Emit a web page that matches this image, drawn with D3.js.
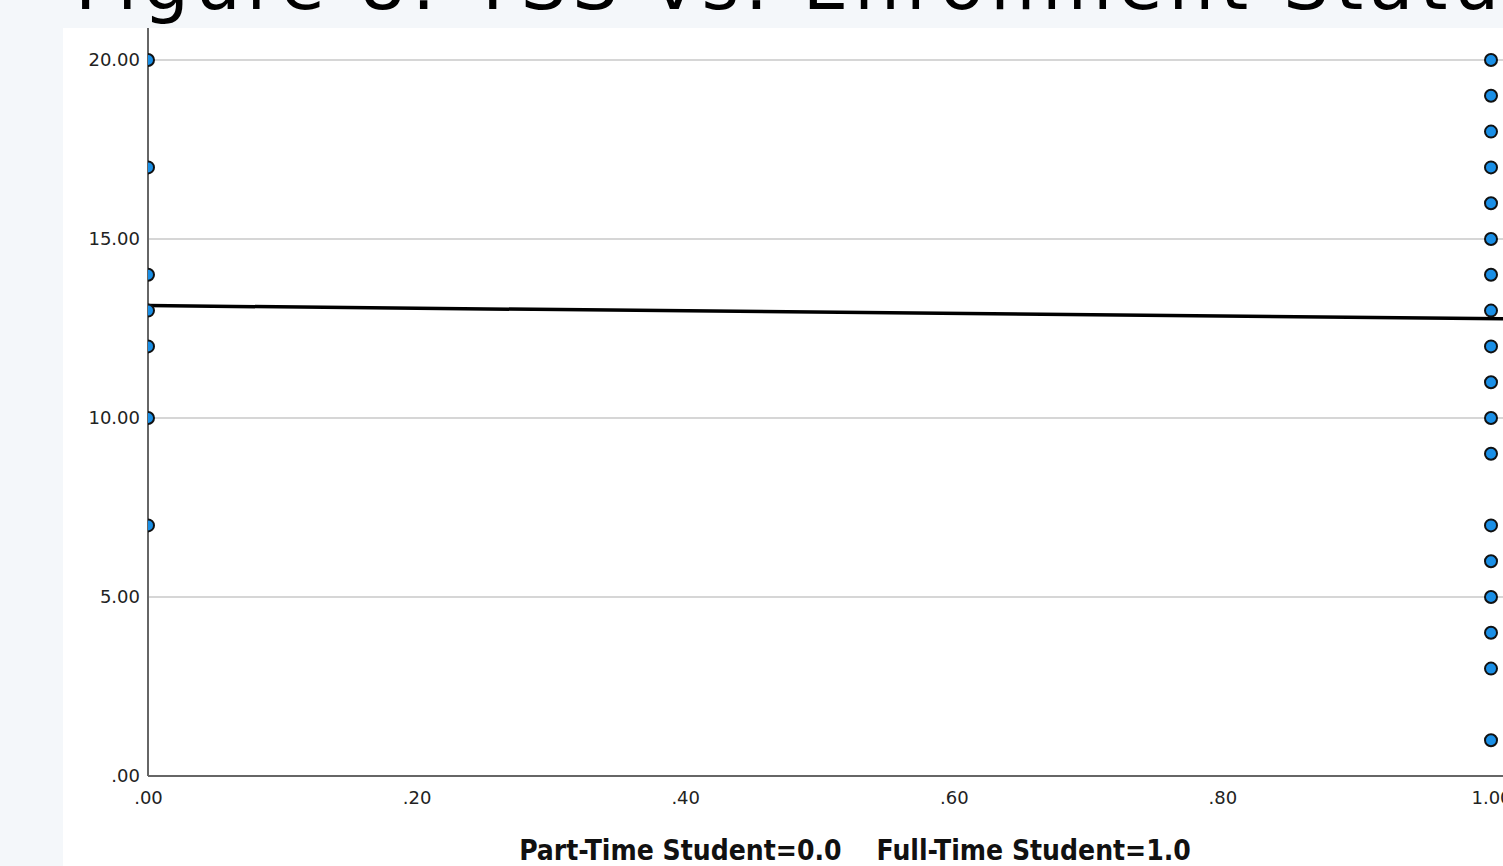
<!DOCTYPE html>
<html>
<head>
<meta charset="utf-8">
<script src="https://cdn.jsdelivr.net/npm/d3@7"></script>
<style>
  html, body { margin: 0; padding: 0; background: #f4f7fa; overflow: hidden; }
  svg { display: block; }
</style>
</head>
<body>
<svg id="chart" width="1503" height="866"></svg>
<script>
// values
var titleText = "Figure 8: YSS vs. Enrollment Status";
var partTimeYss = [20, 17, 14, 13, 12, 10, 7];
var fullTimeYss = [20, 19, 18, 17, 16, 15, 14, 13, 12, 11, 10, 9, 7, 6, 5, 4, 3, 1];
var yTicks = [0, 5, 10, 15, 20];
var xTicks = [0, .2, .4, .6, .8, 1];
var fitX = [0, 1.009];
var fitY = [13.14, 12.77];
var axisTitle = "Part-Time Student=0.0    Full-Time Student=1.0";

var svg = d3.select('#chart'),
    width = 1503, height = 866;

var x = d3.scaleLinear().domain([0, 1]).range([148, 1491]);
var y = d3.scaleLinear().domain([0, 20]).range([776, 60]);

var fmt = function(d){ return d3.format(".2f")(d).replace(/^0/, ""); };

// title, mostly cut off at the top of the screenshot
svg.append("text")
    .attr("x", 75).attr("y", 9)
    .attr("font-family", "DejaVu Sans, sans-serif")
    .attr("font-size", 72)
    .attr("letter-spacing", 6)
    .attr("fill", "#000")
    .text(titleText);

// white panel
svg.append("rect")
    .attr("x", 63).attr("y", 28)
    .attr("width", width - 63).attr("height", height - 28)
    .attr("fill", "#fff");

// gridlines
svg.selectAll(".grid")
    .data(yTicks.filter(function(d){ return d > 0 }))
    .enter().append("line")
    .attr("class", "grid")
    .attr("x1", x(0)).attr("x2", width)
    .attr("y1", function(d){ return y(d) }).attr("y2", function(d){ return y(d) })
    .attr("stroke", "#c8c8c8").attr("stroke-width", 1.6);

// axes
var yAxis = svg.append("g")
    .attr("transform", "translate(" + x(0) + ",0)")
    .call(d3.axisLeft(y).tickValues(yTicks).tickFormat(fmt).tickSize(0).tickPadding(8));
yAxis.select(".domain").remove();
yAxis.selectAll("text")
    .attr("font-family", "DejaVu Sans, sans-serif")
    .attr("font-size", 18).attr("fill", "#222");

var xAxis = svg.append("g")
    .attr("transform", "translate(0," + y(0) + ")")
    .call(d3.axisBottom(x).tickValues(xTicks).tickFormat(fmt).tickSize(0).tickPadding(15));
xAxis.select(".domain").remove();
xAxis.selectAll("text")
    .attr("font-family", "DejaVu Sans, sans-serif")
    .attr("font-size", 18).attr("fill", "#222");

svg.append("line")
    .attr("x1", x(0)).attr("x2", x(0))
    .attr("y1", 28).attr("y2", y(0))
    .attr("stroke", "#666").attr("stroke-width", 2);
svg.append("line")
    .attr("x1", x(0)).attr("x2", width)
    .attr("y1", y(0)).attr("y2", y(0))
    .attr("stroke", "#666").attr("stroke-width", 2);

// clip to plot area
svg.append("clipPath").attr("id", "plotclip")
    .append("rect")
    .attr("x", x(0)).attr("y", 28)
    .attr("width", width - x(0)).attr("height", y(0) - 28);

var plot = svg.append("g").attr("clip-path", "url(#plotclip)");

// fit line
var fit = fitX.map(function(d, i){ return {x: d, y: fitY[i]} });
plot.append("path")
    .datum(fit)
    .attr("d", d3.line().x(function(d){ return x(d.x) }).y(function(d){ return y(d.y) }))
    .attr("stroke", "#000").attr("stroke-width", 3.5).attr("fill", "none");

// points
var pts = partTimeYss.map(function(v){ return {g: 0, v: v} })
    .concat(fullTimeYss.map(function(v){ return {g: 1, v: v} }));

plot.selectAll(".dot")
    .data(pts)
    .enter().append("circle")
    .attr("class", "dot")
    .attr("cx", function(d){ return x(d.g) })
    .attr("cy", function(d){ return y(d.v) })
    .attr("r", 6)
    .attr("fill", "#1a8fe6")
    .attr("stroke", "#111").attr("stroke-width", 2);

// axis title
svg.append("text")
    .attr("x", 855).attr("y", 860)
    .attr("text-anchor", "middle")
    .attr("font-family", "Liberation Sans Narrow, DejaVu Sans Condensed, sans-serif")
    .attr("font-weight", "bold")
    .attr("font-size", 28)
    .attr("fill", "#111")
    .attr("xml:space", "preserve")
    .style("white-space", "pre")
    .text(axisTitle);
</script>
</body>
</html>
